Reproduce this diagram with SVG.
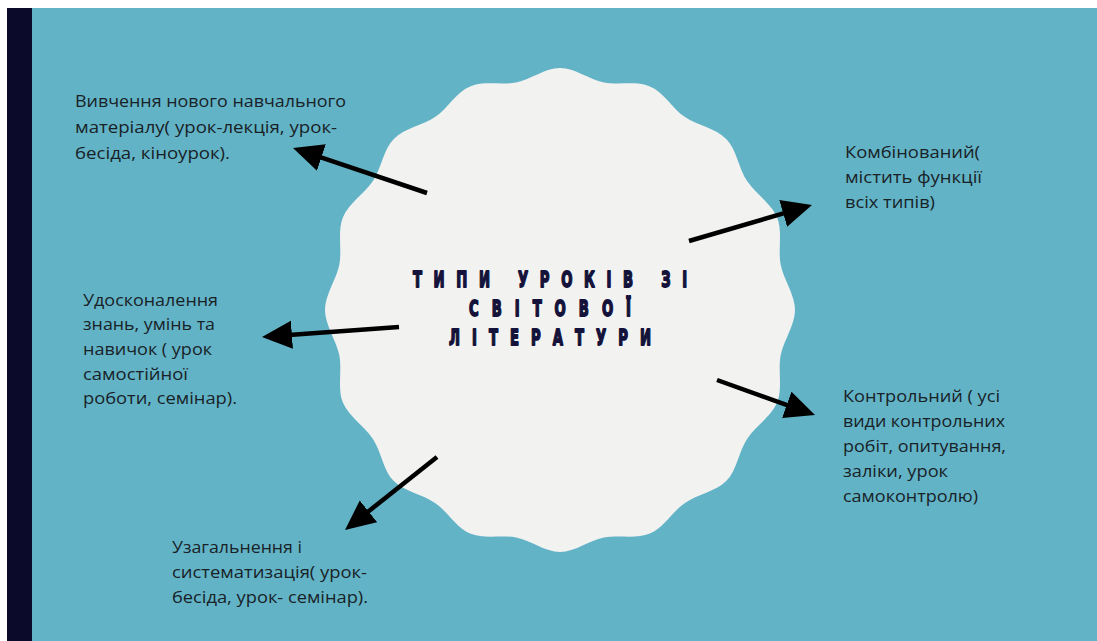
<svg xmlns="http://www.w3.org/2000/svg" width="1097" height="641" viewBox="0 0 1097 641">
<style>
.lbl{font-family:"Open Sans","Noto Sans","DejaVu Sans",sans-serif;font-size:16px;fill:#182226}
.ttl{font-family:"DejaVu Sans","Liberation Sans",sans-serif;font-size:22px;font-weight:bold;fill:#14123a;stroke:#14123a;stroke-width:1.8;stroke-linejoin:round}
.arr{stroke:#000;stroke-width:4.5;fill:none;marker-end:url(#ah)}
</style>
<defs>
<marker id="ah" markerUnits="userSpaceOnUse" markerWidth="32" markerHeight="30" refX="10" refY="14" orient="auto">
<path d="M0,0 L30,14 L0,28 Z" fill="#000"/>
</marker>
</defs>
<rect x="0" y="0" width="1097" height="641" fill="#ffffff"/>
<rect x="7" y="8" width="1090" height="633" fill="#63b3c7"/>
<rect x="7" y="8" width="25" height="633" fill="#0b0a2b"/>
<g id="center">
<path fill="#f2f2f1" d="M795,310 C795,325 783.61,340.55 780.68,355.26 S782.85,388.75 777.11,402.61 S755.41,426.42 747.08,438.89 S736.78,470.51 726.17,481.12 S697.47,494.57 685.00,502.90 S663.79,527.84 649.93,533.58 S618.61,534.61 603.90,537.54 S575,552 560,552 S530.81,540.47 516.10,537.54 S483.93,539.32 470.07,533.58 S447.47,511.23 435.00,502.90 S404.44,491.73 393.83,481.12 S381.25,451.36 372.92,438.89 S348.63,416.47 342.89,402.61 S342.25,369.97 339.32,355.26 S325,325 325,310 S336.39,279.45 339.32,264.74 S337.15,231.25 342.89,217.39 S364.59,193.58 372.92,181.11 S383.22,149.49 393.83,138.88 S422.53,125.43 435.00,117.10 S456.21,92.16 470.07,86.42 S501.39,85.39 516.10,82.46 S545,68 560,68 S589.19,79.53 603.90,82.46 S636.07,80.68 649.93,86.42 S672.53,108.77 685.00,117.10 S715.56,128.27 726.17,138.88 S738.75,168.64 747.08,181.11 S771.37,203.53 777.11,217.39 S777.75,250.03 780.68,264.74 S795,295 795,310 Z"/>
<g transform="translate(550,0) scale(0.6,1)">
<text class="ttl" x="0" y="287" text-anchor="middle" textLength="457" lengthAdjust="spacing">ТИПИ УРОКІВ ЗІ</text>
<text class="ttl" x="0" y="316" text-anchor="middle" textLength="270" lengthAdjust="spacing">СВІТОВОЇ</text>
<text class="ttl" x="0" y="345" text-anchor="middle" textLength="337" lengthAdjust="spacing">ЛІТЕРАТУРИ</text>
</g>
</g>
<g id="connectors">
<line class="arr" x1="427" y1="193" x2="311.96" y2="154.36"/>
<line class="arr" x1="689" y1="241" x2="792.81" y2="210.62"/>
<line class="arr" x1="399" y1="327" x2="281.94" y2="335.54"/>
<line class="arr" x1="717" y1="380" x2="796.17" y2="408.28"/>
<line class="arr" x1="437" y1="457" x2="360.67" y2="517.57"/>
</g>
<g id="n1">
<text class="lbl" x="75" y="107" textLength="271" lengthAdjust="spacingAndGlyphs">Вивчення нового навчального</text>
<text class="lbl" x="75" y="133" textLength="262" lengthAdjust="spacingAndGlyphs">матеріалу( урок-лекція, урок-</text>
<text class="lbl" x="75" y="159" textLength="155" lengthAdjust="spacingAndGlyphs">бесіда, кіноурок).</text>
</g>
<g id="n2">
<text class="lbl" x="83" y="306" textLength="135" lengthAdjust="spacingAndGlyphs">Удосконалення</text>
<text class="lbl" x="83" y="330" textLength="132" lengthAdjust="spacingAndGlyphs">знань, умінь та</text>
<text class="lbl" x="83" y="355" textLength="129" lengthAdjust="spacingAndGlyphs">навичок ( урок</text>
<text class="lbl" x="83" y="380" textLength="105" lengthAdjust="spacingAndGlyphs">самостійної</text>
<text class="lbl" x="83" y="404" textLength="154" lengthAdjust="spacingAndGlyphs">роботи, семінар).</text>
</g>
<g id="n3">
<text class="lbl" x="845" y="158" textLength="135" lengthAdjust="spacingAndGlyphs">Комбінований(</text>
<text class="lbl" x="845" y="183" textLength="137" lengthAdjust="spacingAndGlyphs">містить функції</text>
<text class="lbl" x="845" y="208" textLength="90" lengthAdjust="spacingAndGlyphs">всіх типів)</text>
</g>
<g id="n4">
<text class="lbl" x="843" y="402" textLength="157" lengthAdjust="spacingAndGlyphs">Контрольний ( усі</text>
<text class="lbl" x="843" y="427" textLength="162" lengthAdjust="spacingAndGlyphs">види контрольних</text>
<text class="lbl" x="843" y="452" textLength="163" lengthAdjust="spacingAndGlyphs">робіт, опитування,</text>
<text class="lbl" x="843" y="477" textLength="105" lengthAdjust="spacingAndGlyphs">заліки, урок</text>
<text class="lbl" x="843" y="502" textLength="135" lengthAdjust="spacingAndGlyphs">самоконтролю)</text>
</g>
<g id="n5">
<text class="lbl" x="172" y="553" textLength="130" lengthAdjust="spacingAndGlyphs">Узагальнення і</text>
<text class="lbl" x="172" y="578" textLength="195" lengthAdjust="spacingAndGlyphs">систематизація( урок-</text>
<text class="lbl" x="172" y="603" textLength="196" lengthAdjust="spacingAndGlyphs">бесіда, урок- семінар).</text>
</g>
</svg>
